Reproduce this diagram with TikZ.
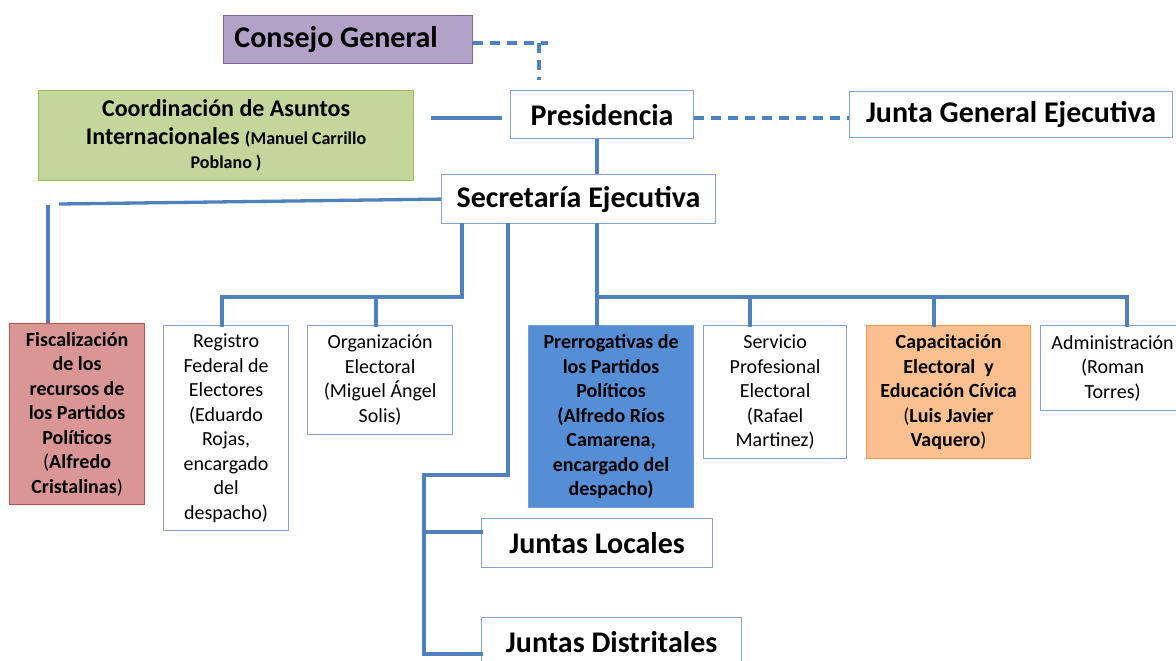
\documentclass[tikz,border=0pt]{standalone}
\usepackage{fontspec}
\setmainfont{Carlito}
\tikzstyle{chart} = [x = 1pt, y = -1pt]
\definecolor{linkColor}{RGB}{79,129,189}
\definecolor{boxBorder}{RGB}{130,165,214}
\definecolor{consejoFill}{HTML}{B3A2C7}
\definecolor{consejoBorder}{HTML}{8064A2}
\definecolor{coordFill}{HTML}{C3D69B}
\definecolor{coordBorder}{HTML}{9BBB59}
\definecolor{fiscFill}{HTML}{D99694}
\definecolor{fiscBorder}{HTML}{C0504D}
\definecolor{prerrogFill}{HTML}{558ED5}
\definecolor{prerrogBorder}{HTML}{6F9EDA}
\definecolor{capFill}{HTML}{FAC090}
\definecolor{capBorder}{HTML}{F79646}
\newcommand{\headFont}{\fontsize{30}{36}\selectfont\bfseries}
\newcommand{\coordFont}{\fontsize{24}{28}\selectfont\bfseries}
\newcommand{\noteFont}{\fontsize{18}{28}\selectfont}
\newcommand{\unitFont}{\fontsize{20}{24.5}\selectfont}
\tikzstyle{unitStyle} = [draw=boxBorder, fill=white, line width=1.2pt, align=center, inner sep=0pt, font=\unitFont]
\tikzstyle{headStyle} = [unitStyle, font=\headFont]
\tikzstyle{boldUnit} = [unitStyle, font=\unitFont\bfseries]
\tikzstyle{orgLink} = [color=linkColor, line width=3.3pt, line cap=rect]
\tikzstyle{dashLink} = [orgLink, line cap=butt, dash pattern=on 10pt off 7pt]
\newcommand{\unitBox}[7]{\node [#2, anchor=north west, minimum width=#5pt, minimum height=#6pt] (#1) at (#3,#4) {#7};}
\newcommand{\dropLine}[3]{\draw [orgLink] (#1,#2) -- (#1,#2 |- #3.north);}
\begin{document}
\begin{tikzpicture}[chart]
  \fill [white] (0,0) rectangle (1176,661);
  \useasboundingbox (0,0) rectangle (1176,661);

  \unitBox{consejo}{headStyle, fill=consejoFill, draw=consejoBorder}{223}{15}{249}{48}{Consejo General\hspace{24pt}}
  \unitBox{coord}{unitStyle, font=\coordFont, fill=coordFill, draw=coordBorder}{38}{90}{375}{90}{Coordinación de Asuntos\\Internacionales {\noteFont\bfseries(Manuel Carrillo}\\[-4pt]{\noteFont\bfseries Poblano )}}
  \unitBox{presi}{headStyle}{510}{90}{183}{48}{Presidencia}
  \unitBox{junta}{headStyle}{849}{91}{323}{46}{\raisebox{-3pt}{Junta General Ejecutiva}}
  \unitBox{secre}{headStyle}{441}{174}{274}{49}{\raisebox{-3pt}{Secretaría Ejecutiva}}

  \unitBox{fisc}{boldUnit, fill=fiscFill, draw=fiscBorder}{9}{323}{135}{181}{Fiscalización\\de los\\recursos de\\los Partidos\\Políticos\\{\mdseries(}Alfredo\\Cristalinas{\mdseries)}}
  \unitBox{regis}{unitStyle}{163}{325}{125}{205}{Registro\\Federal de\\Electores\\(Eduardo\\Rojas,\\encargado\\del\\despacho)}
  \unitBox{organ}{unitStyle}{307}{325}{145}{109}{Organización\\Electoral\\(Miguel Ángel\\Solis)}
  \unitBox{prerrog}{boldUnit, fill=prerrogFill, draw=prerrogBorder}{528}{325}{165}{182}{Prerrogativas de\\los Partidos\\Políticos\\(Alfredo Ríos\\Camarena,\\encargado del\\despacho)}
  \unitBox{servi}{unitStyle}{703}{325}{143}{133}{Servicio\\Profesional\\Electoral\\(Rafael\\Martinez)}
  \unitBox{capac}{boldUnit, fill=capFill, draw=capBorder}{866}{325}{164}{133}{Capacitación\\Electoral\ \ y\\Educación Cívica\\{\mdseries(}Luis Javier\\Vaquero{\mdseries)}}
  \unitBox{admin}{unitStyle}{1040}{325}{144}{85}{Administración\\(Roman\\Torres)}

  \unitBox{locales}{headStyle}{481}{518}{231}{49}{Juntas Locales}
  \unitBox{distri}{headStyle}{481}{617}{260}{48}{Juntas Distritales}

  \coordinate (consejoTurn) at (548,43);
  \coordinate (presiTop) at (539,80);
  \coordinate (coordEnd) at (433,118);
  \coordinate (presiStub) at (500,118);
  \coordinate (fiscTurn) at (59,204);
  \coordinate (fiscTop) at (48,205);
  \coordinate (leftBus) at (462,297);
  \coordinate (midBus) at (597,297);
  \coordinate (juntaBus) at (508,475);
  \coordinate (juntaRail) at (424,475);
  \coordinate (railEnd) at (424,654);

  \draw [dashLink] (consejo.east |- consejoTurn) -- (consejoTurn);
  \draw [dashLink] (consejoTurn -| presiTop) -- (presiTop);
  \draw [orgLink] (coordEnd) -- (presiStub);
  \draw [dashLink] (presi.east |- presiStub) -- (junta.west |- presiStub);
  \draw [orgLink, line cap=butt] (presi.south -| midBus) -- (secre.north -| midBus);

  \draw [orgLink, line cap=butt] (secre.west) -- (fiscTurn);
  \draw [orgLink, line cap=butt] (fiscTop) -- (fiscTop |- fisc.north);

  \draw [orgLink] (secre.south -| leftBus) -- (leftBus) -- (222,297);
  \dropLine{222}{297}{regis}
  \dropLine{376}{297}{organ}

  \draw [orgLink] (secre.south -| midBus) -- (midBus) -- (1127,297);
  \dropLine{597}{297}{prerrog}
  \dropLine{750}{297}{servi}
  \dropLine{934}{297}{capac}
  \dropLine{1127}{297}{admin}

  \draw [orgLink] (secre.south -| juntaBus) -- (juntaBus) -- (juntaRail) -- (railEnd) -- (railEnd -| distri.west);
  \draw [orgLink] (424,532) -- (424,532 -| locales.west);
\end{tikzpicture}
\end{document}
